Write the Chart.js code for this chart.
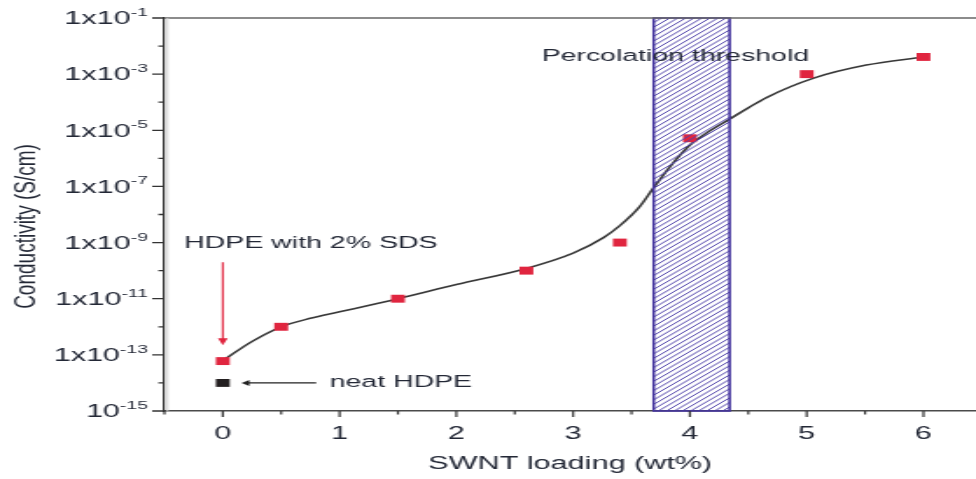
<!DOCTYPE html>
<html>
<head>
<meta charset="utf-8">
<script src="https://cdn.jsdelivr.net/npm/chart.js@4.4.1/dist/chart.umd.min.js"></script>
<style>
html,body{margin:0;padding:0;background:#fff;overflow:hidden}
canvas{display:block}
</style>
</head>
<body>
<canvas id="c" width="558" height="479" style="width:976px;height:479px"></canvas>
<script>
// ---- data ----
const loading = [0, 0.5, 1.5, 2.6, 3.4, 4.0, 5.0, 6.0];
const conductivity = [6e-14, 1e-12, 1e-11, 1e-10, 1e-9, 5.2e-6, 1e-3, 4.1e-3];
const neatLoading = [0];
const neatConductivity = [1e-14];
const fitLoading = [0, 0.25, 0.5, 0.75, 1.0, 1.5, 2.0, 2.6, 3.0, 3.26, 3.4, 3.57, 3.685, 3.83, 4.0, 4.14, 4.34, 4.5, 4.66, 5.06, 5.51, 6.0];
const fitConductivity = [6.3e-14, 3.0e-13, 1e-12, 2.0e-12, 3.4e-12, 1e-11, 3.2e-11, 1.2e-10, 4.2e-10, 1.5e-9, 4.0e-9, 1.9e-8, 8.5e-8, 5.1e-7, 3.0e-6, 7.9e-6, 2.5e-5, 6.3e-5, 1.5e-4, 7.2e-4, 2.1e-3, 4.1e-3];
const thresholdRange = [3.69, 4.34];
const xTickLabels = [0, 1, 2, 3, 4, 5, 6];
const xMinorTicks = [-0.5, 0.5, 1.5, 2.5, 3.5, 4.5, 5.5];
const yTickExponents = [-1, -3, -5, -7, -9, -11, -13, -15];
const yTickBases = ['1x10', '1x10', '1x10', '1x10', '1x10', '1x10', '1x10', '10'];
const yMinorExponents = [-2, -4, -6, -8, -10, -12, -14];
const xTitle = 'SWNT loading (wt%)';
const yTitle = 'Conductivity (S/cm)';
const notes = [
  {text: 'HDPE with 2% SDS', x: -0.33, y: 8.9e-10},
  {text: 'neat HDPE', x: 0.915, y: 1e-14},
  {text: 'Percolation threshold', x: 2.73, y: 4.3e-3}
];
const redArrow = {x: 0, yFrom: 2.0e-10, yTo: 2.2e-13};
const blackArrow = {y: 1e-14, xFrom: 0.80, xTo: 0.16};

const FONT = "'Liberation Sans', Arial, sans-serif";
const TXT = '#232836';
const RED = '#e0253f';

const overlay = {
  id: 'overlay',
  afterDatasetsDraw(chart) {
    const {ctx, chartArea: a, scales: {x, y}} = chart;
    // hatched percolation band
    const x0 = x.getPixelForValue(thresholdRange[0]);
    const x1 = x.getPixelForValue(thresholdRange[1]);
    const h = a.bottom - a.top;
    ctx.save();
    ctx.beginPath();
    ctx.rect(x0, a.top, x1 - x0, h);
    ctx.clip();
    ctx.strokeStyle = '#5143aa';
    ctx.lineWidth = 1.0;
    ctx.beginPath();
    for (let k = x0 - h; k < x1 + 5; k += 4.6) {
      ctx.moveTo(k, a.bottom);
      ctx.lineTo(k + h, a.top);
    }
    ctx.stroke();
    ctx.restore();
    ctx.save();
    ctx.strokeStyle = '#44349e';
    ctx.lineWidth = 1.6;
    ctx.strokeRect(x0, a.top, x1 - x0, h);
    ctx.restore();

    // frame top line and left shadow
    ctx.save();
    ctx.strokeStyle = '#666';
    ctx.lineWidth = 1.5;
    ctx.beginPath();
    ctx.moveTo(a.left, a.top);
    ctx.lineTo(a.right, a.top);
    ctx.stroke();
    ctx.strokeStyle = '#d4d4d4';
    ctx.lineWidth = 1;
    ctx.beginPath();
    ctx.moveTo(a.left + 1.8, a.top);
    ctx.lineTo(a.left + 1.8, a.bottom);
    ctx.stroke();

    // tick marks
    ctx.strokeStyle = '#333';
    ctx.lineWidth = 1.3;
    ctx.beginPath();
    yTickExponents.forEach(e => {
      const py = y.getPixelForValue(Math.pow(10, e));
      ctx.moveTo(a.left - 7, py); ctx.lineTo(a.left, py);
    });
    yMinorExponents.forEach(e => {
      const py = y.getPixelForValue(Math.pow(10, e));
      ctx.moveTo(a.left - 3.5, py); ctx.lineTo(a.left, py);
    });
    ctx.stroke();
    ctx.lineWidth = 1.2;
    ctx.beginPath();
    xTickLabels.forEach(v => {
      const px = x.getPixelForValue(v);
      ctx.moveTo(px, a.bottom); ctx.lineTo(px, a.bottom + 6);
    });
    xMinorTicks.forEach(v => {
      const px = x.getPixelForValue(v);
      ctx.moveTo(px, a.bottom); ctx.lineTo(px, a.bottom + 3.5);
    });
    ctx.stroke();

    // y tick labels with superscript exponents
    ctx.fillStyle = TXT;
    ctx.textAlign = 'right';
    ctx.textBaseline = 'alphabetic';
    const rightEdge = a.left - 9.5;
    yTickExponents.forEach((e, i) => {
      const py = y.getPixelForValue(Math.pow(10, e));
      const expText = String(e);
      ctx.font = '11px ' + FONT;
      const ew = ctx.measureText(expText).width;
      ctx.fillText(expText, rightEdge, py - 2);
      ctx.font = '17.5px ' + FONT;
      ctx.fillText(yTickBases[i], rightEdge - ew, py + 6.3);
    });

    // y title
    ctx.save();
    ctx.translate(15.5, (a.top + a.bottom) / 2 + 12);
    ctx.rotate(-Math.PI / 2);
    ctx.scale(1, 0.85);
    ctx.font = '19px ' + FONT;
    ctx.textAlign = 'center';
    ctx.textBaseline = 'middle';
    ctx.fillText(yTitle, 0, 0);
    ctx.restore();

    // annotations
    ctx.font = '16.3px ' + FONT;
    ctx.textAlign = 'left';
    ctx.textBaseline = 'middle';
    notes.forEach(n => {
      ctx.fillText(n.text, x.getPixelForValue(n.x), y.getPixelForValue(n.y));
    });

    // red arrow (down)
    const rx = x.getPixelForValue(redArrow.x);
    const ry0 = y.getPixelForValue(redArrow.yFrom);
    const ry1 = y.getPixelForValue(redArrow.yTo);
    ctx.strokeStyle = RED;
    ctx.fillStyle = RED;
    ctx.lineWidth = 1.1;
    ctx.beginPath();
    ctx.moveTo(rx, ry0); ctx.lineTo(rx, ry1 - 6);
    ctx.stroke();
    ctx.beginPath();
    ctx.moveTo(rx - 2.8, ry1 - 7); ctx.lineTo(rx + 2.8, ry1 - 7); ctx.lineTo(rx, ry1);
    ctx.closePath(); ctx.fill();

    // black arrow (left)
    const by = y.getPixelForValue(blackArrow.y);
    const bx0 = x.getPixelForValue(blackArrow.xFrom);
    const bx1 = x.getPixelForValue(blackArrow.xTo);
    ctx.strokeStyle = '#222';
    ctx.fillStyle = '#222';
    ctx.lineWidth = 1.3;
    ctx.beginPath();
    ctx.moveTo(bx0, by); ctx.lineTo(bx1 + 3, by);
    ctx.stroke();
    ctx.beginPath();
    ctx.moveTo(bx1 + 4.5, by - 3); ctx.lineTo(bx1 + 4.5, by + 3); ctx.lineTo(bx1, by);
    ctx.closePath(); ctx.fill();
    ctx.restore();
  }
};

new Chart(document.getElementById('c'), {
  type: 'scatter',
  data: {
    datasets: [
      {
        label: 'HDPE/SWNT',
        data: loading.map((v, i) => ({x: v, y: conductivity[i]})),
        pointStyle: 'rect',
        pointRadius: 5.6,
        pointBackgroundColor: RED,
        pointBorderWidth: 0,
        showLine: false
      },
      {
        label: 'neat HDPE',
        data: neatLoading.map((v, i) => ({x: v, y: neatConductivity[i]})),
        pointStyle: 'rect',
        pointRadius: 5.6,
        pointBackgroundColor: '#231f20',
        pointBorderWidth: 0,
        showLine: false
      },
      {
        label: 'fit',
        data: fitLoading.map((v, i) => ({x: v, y: fitConductivity[i]})),
        showLine: true,
        borderColor: '#383838',
        borderWidth: 1.6,
        pointRadius: 0,
        cubicInterpolationMode: 'monotone',
        fill: false
      }
    ]
  },
  options: {
    responsive: false,
    devicePixelRatio: 1,
    animation: false,
    events: [],
    layout: {autoPadding: false, padding: {top: 18, right: 0, left: 0, bottom: 0}},
    plugins: {legend: {display: false}, tooltip: {enabled: false}},
    scales: {
      x: {
        type: 'linear',
        min: -0.5,
        max: 6.45,
        afterBuildTicks: s => { s.ticks = xTickLabels.map(v => ({value: v})); },
        afterFit: s => { s.height = 68; },
        grid: {display: false, drawTicks: false},
        border: {display: true, color: '#4a4a4a', width: 1.6},
        ticks: {
          font: {family: FONT, size: 17.5},
          color: TXT,
          padding: 13,
          maxRotation: 0,
          autoSkip: false,
          callback: v => String(v)
        },
        title: {
          display: true,
          text: xTitle,
          font: {family: FONT, size: 17.5},
          color: TXT,
          padding: {top: 0, bottom: 4}
        }
      },
      y: {
        type: 'logarithmic',
        min: 1e-15,
        max: 1e-1,
        afterBuildTicks: s => { s.ticks = yTickExponents.map(e => ({value: Math.pow(10, e)})); },
        afterFit: s => { s.width = 94; },
        grid: {display: false, drawTicks: false},
        border: {display: true, color: '#333', width: 1.2},
        ticks: {display: false}
      }
    }
  },
  plugins: [overlay]
});
</script>
</body>
</html>
